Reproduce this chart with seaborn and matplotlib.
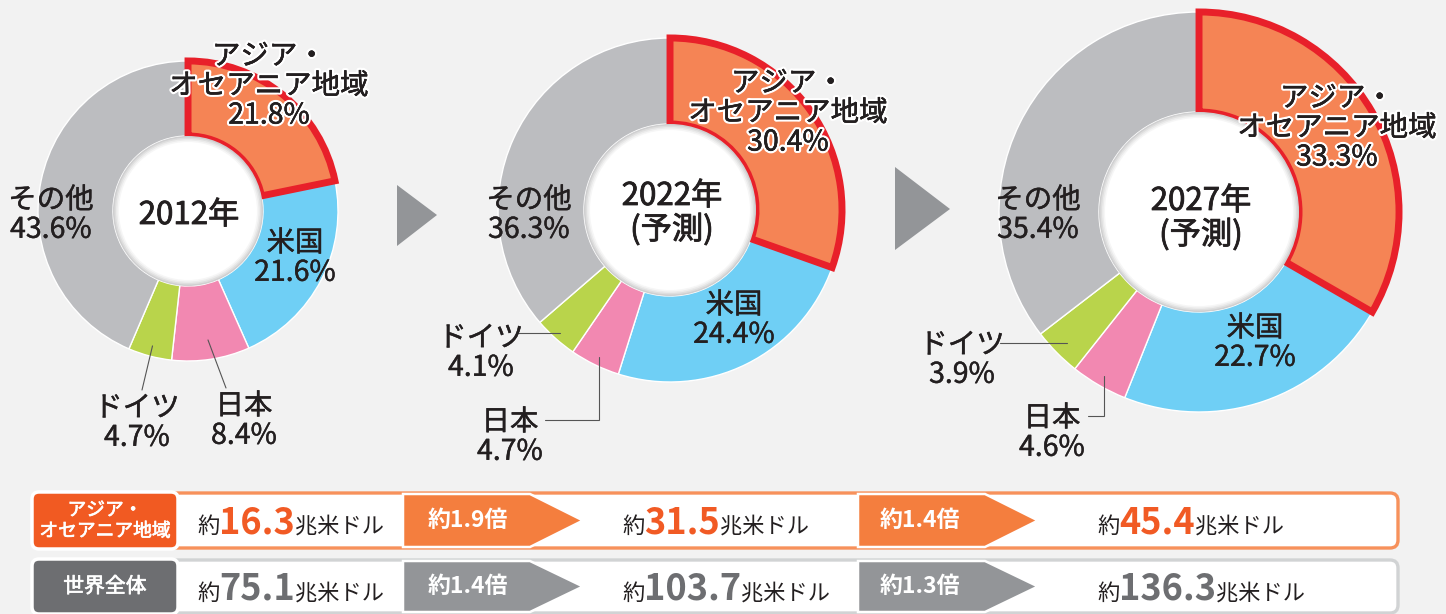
import numpy as np
import matplotlib
matplotlib.use("Agg")
import matplotlib.pyplot as plt
import matplotlib.patheffects as pe
from matplotlib.patches import Circle, Polygon, FancyBboxPatch
import seaborn as sns

# ---- data ----
regions = ["アジア・\nオセアニア地域", "米国", "日本", "ドイツ", "その他"]
share_2012 = [21.8, 21.6, 8.4, 4.7, 43.6]
share_2022 = [30.4, 24.4, 4.7, 4.1, 36.3]
share_2027 = [33.3, 22.7, 4.6, 3.9, 35.4]
year_labels = ["2012年", "2022年\n(予測)", "2027年\n(予測)"]
asia_total = ["16.3", "31.5", "45.4"]
world_total = ["75.1", "103.7", "136.3"]
asia_growth = ["約1.9倍", "約1.4倍"]
world_growth = ["約1.4倍", "約1.3倍"]

colors = sns.color_palette(["#f58455", "#6fcff5", "#f288b1", "#b9d44b", "#bcbdc0"])
BG = "#f2f2f2"
DARK = "#231f20"

sns.set_style("white")
plt.rcParams["font.family"] = ["Noto Sans CJK JP", "DejaVu Sans"]

W, H = 1446, 614
fig = plt.figure(figsize=(W / 100, H / 100), dpi=100)
fig.patch.set_facecolor(BG)
ax = fig.add_axes([0, 0, 1, 1])
ax.set_facecolor(BG)


def Y(y):
    return H - y


# pie geometry (image px): centre x, centre y, outer radius
geom = [(188, 211, 150), (670, 210, 172), (1199, 212, 200)]
shares = [share_2012, share_2022, share_2027]

# label positions (centre of text block) per pie, in region order
label_pos = [
    [(269, 86), (295, 258), (244, 421), (137, 423), (51, 215)],
    [(788, 113), (734, 320), (510, 437), (481, 353), (529, 215)],
    [(1337, 128), (1255, 343), (1052, 433), (962, 360), (1038, 215)],
]
year_pos = [(189, 215), (672, 213), (1201, 218)]

medium = [pe.withStroke(linewidth=0.3, foreground=DARK)]
halo = [pe.withStroke(linewidth=3.5, foreground="white"),
        pe.withStroke(linewidth=0.3, foreground=DARK)]
centre_fx = [pe.withStroke(linewidth=0.6, foreground=DARK)]

all_wedges = []
for (cx, cy, r), vals in zip(geom, shares):
    explode = [5 / r, 0, 0, 0, 0]
    wedges, _ = ax.pie(vals, colors=colors, radius=r, center=(cx, Y(cy)),
                       startangle=90, counterclock=False, explode=explode,
                       wedgeprops=dict(width=r * 0.5, edgecolor="white", linewidth=1))
    w = wedges[0]
    w.set_edgecolor("#e8202a")
    w.set_linewidth(5)
    w.set_joinstyle("miter")
    w.set_zorder(3)
    all_wedges.append(wedges)
    # white centre with soft shadow
    rin = r * 0.5
    for dr, c in [(0, "#cfcfd0"), (1.5, "#dedede"), (3, "#ebebeb"), (4.5, "#f6f6f6"), (6, "white")]:
        ax.add_patch(Circle((cx, Y(cy)), rin - dr, facecolor=c, edgecolor="none", zorder=4))

for i, vals in enumerate(shares):
    for j, (name, v) in enumerate(zip(regions, vals)):
        x, y = label_pos[i][j]
        ax.text(x, Y(y), f"{name}\n{v:.1f}%", ha="center", va="center",
                fontsize=20.5, color=DARK, linespacing=0.98, zorder=6,
                path_effects=halo if j == 0 else medium)
    yx, yy = year_pos[i]
    ax.text(yx, Y(yy), year_labels[i], ha="center", va="center", fontsize=22.5,
            color=DARK, linespacing=1.05, zorder=6, path_effects=centre_fx)


def wedge_point(w, frac):
    th = np.deg2rad((w.theta1 + w.theta2) / 2)
    return w.center[0] + frac * w.r * np.cos(th), w.center[1] + frac * w.r * np.sin(th)


# leader lines: (pie, region, radius fraction, further points in image px)
leaders = [
    (0, 3, 0.93, [(142, 390)]),
    (0, 2, 0.87, [(226, 388)]),
    (1, 3, 0.96, [(518, None)]),
    (1, 2, 0.95, [(None, 420), (545, 420)]),
    (2, 3, 0.93, [(1000, None)]),
    (2, 2, 0.95, [(None, 416), (1088, 416)]),
]
for pi, ri, frac, pts in leaders:
    x0, y0 = wedge_point(all_wedges[pi][ri], frac)
    xs, ys = [x0], [y0]
    for px, py in pts:
        xs.append(x0 if px is None else px)
        ys.append(y0 if py is None else Y(py))
    ax.plot(xs, ys, color="#555555", lw=0.8, zorder=5, solid_joinstyle="miter")

# grey arrows between pies
for tri in [[(397, 185), (437, 215), (397, 246)], [(895, 167), (950, 209), (895, 250)]]:
    ax.add_patch(Polygon([(x, Y(y)) for x, y in tri], closed=True,
                         facecolor="#939598", edgecolor="none"))

# ---- bottom rows ----
rows = [
    dict(top=493, bot=548, label="アジア・\nオセアニア地域", lsize=13.5, lcol="#f15a22",
         border="#f7915b", arrow="#f47e3e", num_col="#f15a24", vals=asia_total,
         growth=asia_growth, base=533),
    dict(top=560, bot=613, label="世界全体", lsize=15, lcol="#6d6e71",
         border="#d1d3d4", arrow="#939598", num_col="#6d6e71", vals=world_total,
         growth=world_growth, base=600),
]
renderer = fig.canvas.get_renderer()


def draw_pieces(x, y, pieces):
    for s, size, color, weight in pieces:
        t = ax.text(x, y, s, fontsize=size, color=color, fontweight=weight,
                    ha="left", va="baseline", zorder=8)
        x += t.get_window_extent(renderer=renderer).width


for row in rows:
    top, bot = row["top"], row["bot"]
    mid = (top + bot) / 2
    ax.add_patch(FancyBboxPatch((150, Y(bot)), 1398 - 150, bot - top,
                                boxstyle="round,pad=0,rounding_size=8",
                                facecolor="white", edgecolor=row["border"], lw=2.4, zorder=5))
    for x0, xs, xt, g, tx in [(403, 530, 583, row["growth"][0], 428),
                              (858, 985, 1038, row["growth"][1], 880)]:
        poly = [(x0, top + 1), (xs, top + 1), (xt, mid), (xs, bot - 1), (x0, bot - 1)]
        ax.add_patch(Polygon([(px, Y(py)) for px, py in poly], closed=True,
                             facecolor=row["arrow"], edgecolor="white", lw=1.8, zorder=6))
        ax.text(tx, Y(mid), g, fontsize=16.5, fontweight="bold", color="white",
                ha="left", va="center", zorder=8)
    ax.add_patch(FancyBboxPatch((32, Y(bot + 1)), 146, bot - top + 2,
                                boxstyle="round,pad=0,rounding_size=7",
                                facecolor=row["lcol"], edgecolor="white", lw=2.5, zorder=7))
    ax.text(105, Y(mid), row["label"], fontsize=row["lsize"], color="white",
            ha="center", va="center", linespacing=1.0, zorder=8,
            path_effects=[pe.withStroke(linewidth=0.5, foreground="white")])
    for x0, v in zip([197, 622, 1097], row["vals"]):
        draw_pieces(x0, Y(row["base"]), [("約", 16, DARK, "normal"),
                                         (v, 26, row["num_col"], "bold"),
                                         ("兆米ドル", 16, DARK, "normal")])

ax.set_xlim(0, W)
ax.set_ylim(0, H)
ax.axis("off")
fig.savefig("out.png", dpi=100, facecolor=BG)
